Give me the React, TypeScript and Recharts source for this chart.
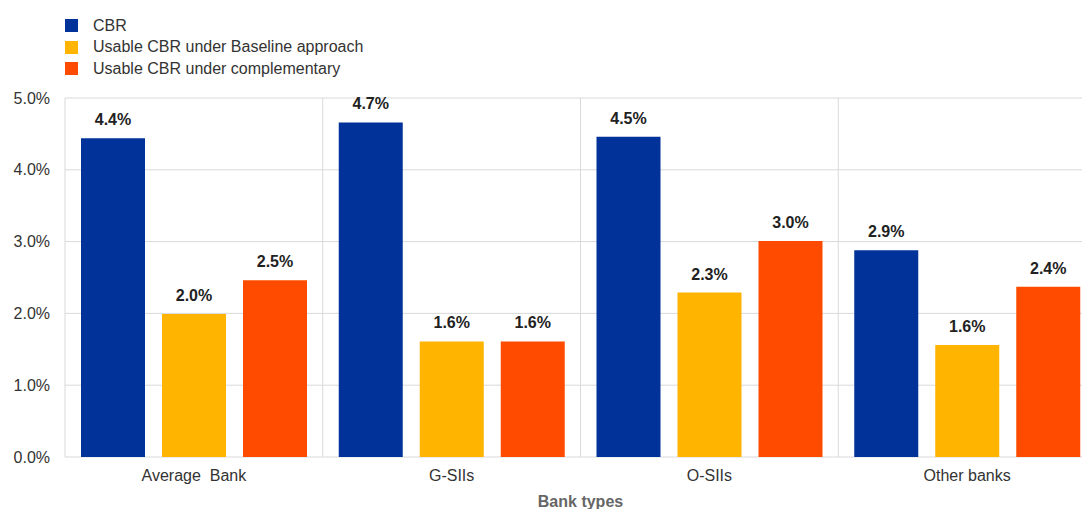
import { BarChart, Bar, XAxis, YAxis, CartesianGrid, LabelList } from "recharts";

const categories = ["Average  Bank", "G-SIIs", "O-SIIs", "Other banks"];
const cbr = [4.44, 4.66, 4.46, 2.88];
const usableBaseline = [1.99, 1.61, 2.29, 1.56];
const usableComplementary = [2.46, 1.61, 3.01, 2.37];
const yTicks = [0, 1, 2, 3, 4, 5];

const SERIES = [
  { key: "cbr", name: "CBR", color: "#003299" },
  { key: "baseline", name: "Usable CBR under Baseline approach", color: "#FFB400" },
  { key: "complementary", name: "Usable CBR under complementary", color: "#FF4B00" },
];

const data = categories.map((c, i) => ({
  name: c,
  idx: i + 0.5,
  cbr: cbr[i],
  baseline: usableBaseline[i],
  complementary: usableComplementary[i],
}));

const FONT = '"Liberation Sans", Arial, sans-serif';
const pct = (v: number) => `${Number(v).toFixed(1)}%`;

// category names keep their spacing (e.g. "Average  Bank")
const CategoryTick = ({ x, y, payload }: any) => (
  <text
    x={x}
    y={y}
    dy="0.71em"
    textAnchor="middle"
    fontSize={16}
    fill="#333"
    fontFamily={FONT}
    style={{ whiteSpace: "pre" }}
  >
    {payload.value}
  </text>
);

export default function App() {
  return (
    <div
      style={{
        position: "fixed",
        left: 0,
        top: 0,
        width: 1082,
        height: 509,
        overflow: "hidden",
        background: "#fff",
        fontFamily: FONT,
      }}
    >
      {/* legend */}
      <div style={{ position: "absolute", left: 65, top: 15, zIndex: 2 }}>
        {SERIES.map((s) => (
          <div
            key={s.key}
            style={{ display: "flex", alignItems: "center", height: 21.5, fontSize: 16, color: "#333" }}
          >
            <span style={{ width: 13, height: 13, background: s.color, marginRight: 15 }} />
            {s.name}
          </div>
        ))}
      </div>
      <BarChart
        width={1100}
        height={509}
        data={data}
        margin={{ top: 98, right: 4, bottom: 0, left: 0 }}
        barSize={64}
        barGap={17}
      >
        <CartesianGrid stroke="#d9d9d9" xAxisId="grid" />
        <XAxis xAxisId="grid" type="number" dataKey="idx" domain={[0, 4]} ticks={[0, 1, 2, 3, 4]} hide />
        <XAxis
          dataKey="name"
          axisLine={false}
          tickLine={false}
          tickSize={0}
          tickMargin={13}
          height={52}
          tick={<CategoryTick />}
          label={{
            value: "Bank types",
            position: "insideBottom",
            offset: 2,
            style: { fontSize: 16, fontWeight: "bold", fill: "#666", fontFamily: FONT },
          }}
        />
        <YAxis
          width={65}
          domain={[0, 5]}
          ticks={yTicks}
          axisLine={false}
          tickLine={false}
          tickSize={0}
          tickMargin={15}
          tickFormatter={pct}
          tick={{ fontSize: 16, fill: "#333", fontFamily: FONT }}
        />
        {SERIES.map((s) => (
          <Bar key={s.key} dataKey={s.key} name={s.name} fill={s.color} isAnimationActive={false}>
            <LabelList
              dataKey={s.key}
              position="top"
              offset={13}
              formatter={(v: number) => pct(v)}
              style={{ fontSize: 16, fontWeight: "bold", fill: "#222", fontFamily: FONT }}
            />
          </Bar>
        ))}
      </BarChart>
    </div>
  );
}
